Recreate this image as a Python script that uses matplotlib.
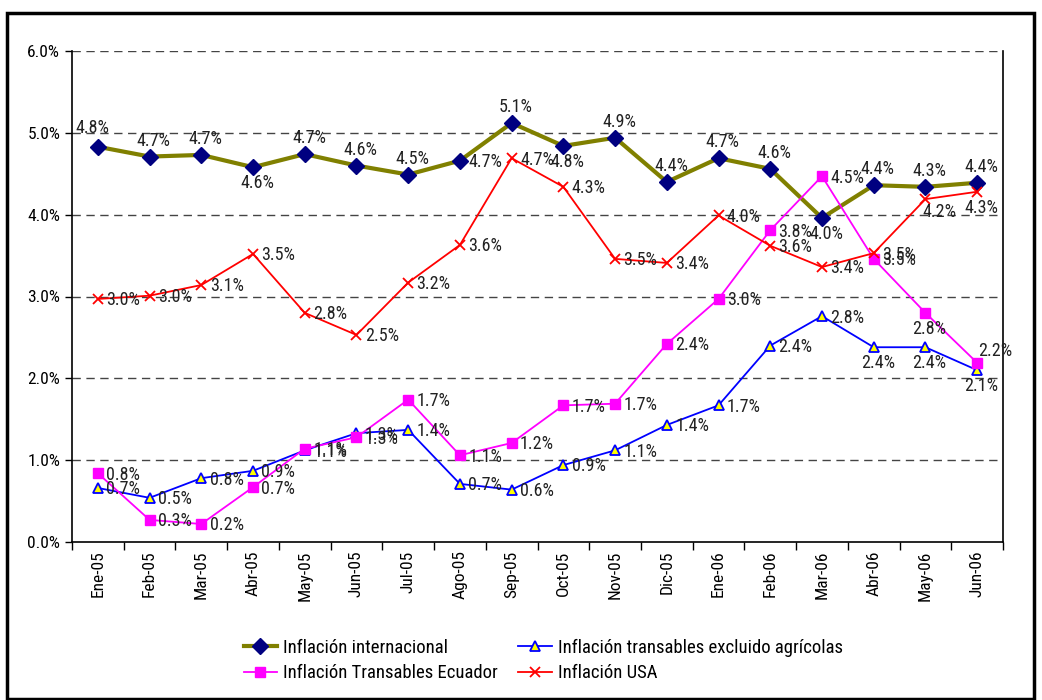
import matplotlib
matplotlib.use('Agg')
import matplotlib.pyplot as plt
from matplotlib.patches import Rectangle
import numpy as np

plt.rcParams['font.family'] = ['Roboto Condensed', 'Liberation Sans', 'DejaVu Sans']

months = ['Ene-05', 'Feb-05', 'Mar-05', 'Abr-05', 'May-05', 'Jun-05', 'Jul-05', 'Ago-05',
          'Sep-05', 'Oct-05', 'Nov-05', 'Dic-05', 'Ene-06', 'Feb-06', 'Mar-06', 'Abr-06',
          'May-06', 'Jun-06']

internacional = [4.83, 4.71, 4.73, 4.58, 4.74, 4.60, 4.49, 4.66, 5.12, 4.84, 4.94, 4.40,
                 4.69, 4.56, 3.96, 4.36, 4.34, 4.39]
usa = [2.97, 3.01, 3.14, 3.52, 2.80, 2.53, 3.17, 3.63, 4.69, 4.34, 3.46, 3.41,
       3.99, 3.62, 3.36, 3.53, 4.19, 4.28]
ecuador = [0.84, 0.27, 0.22, 0.67, 1.14, 1.28, 1.74, 1.06, 1.21, 1.67, 1.69, 2.42,
           2.97, 3.81, 4.47, 3.46, 2.80, 2.19]
excl_agricolas = [0.66, 0.54, 0.78, 0.87, 1.12, 1.33, 1.37, 0.71, 0.64, 0.94, 1.12, 1.43,
                  1.67, 2.40, 2.76, 2.38, 2.38, 2.10]

# where each data label sits relative to its point
pos_int = ['al', 'a', 'a', 'b', 'a', 'a', 'a', 'r', 'a', 'b', 'a', 'a', 'a', 'a', 'b', 'a', 'a', 'a']
pos_usa = ['r'] * 16 + ['br', 'b']
pos_ecu = ['r'] * 16 + ['b', 'ar']
pos_exc = ['r'] * 15 + ['b', 'b', 'b']

offsets = {
    'r': ((6, -1), 'left', 'center'),
    'a': ((3, 5), 'center', 'bottom'),
    'al': ((-4, 7), 'center', 'bottom'),
    'b': ((3, -5), 'center', 'top'),
    'br': ((10, -3), 'center', 'top'),
    'ar': ((1, 2), 'left', 'bottom'),
}


def add_labels(ax, x, values, positions):
    for xi, v, p in zip(x, values, positions):
        (dx, dy), ha, va = offsets[p]
        ax.annotate(f'{v:.1f}%', (xi, v), xytext=(dx, dy), textcoords='offset points',
                    ha=ha, va=va, fontsize=13, color='#222222')


fig = plt.figure(figsize=(10.42, 7), dpi=100)
ax = fig.add_axes([72 / 1042, 1 - 542 / 700, 931 / 1042, 491 / 700])

x = np.arange(len(months))

ax.plot(x, internacional, color='#808000', lw=3, marker='D', ms=8,
        mfc='#000080', mec='#000080', label='Inflación internacional', zorder=3)
ax.plot(x, excl_agricolas, color='#0000FF', lw=1.3, marker='^', ms=7,
        mfc='#FFFF00', mec='#0000FF', mew=1.3, label='Inflación transables excluido agrícolas', zorder=3)
ax.plot(x, ecuador, color='#FF00FF', lw=1.3, marker='s', ms=7,
        mfc='#FF00FF', mec='#FF00FF', label='Inflación Transables Ecuador', zorder=3)
ax.plot(x, usa, color='#FF0000', lw=1.3, marker='x', ms=7, mew=1.3,
        label='Inflación USA', zorder=3)

add_labels(ax, x, internacional, pos_int)
add_labels(ax, x, usa, pos_usa)
add_labels(ax, x, ecuador, pos_ecu)
add_labels(ax, x, excl_agricolas, pos_exc)

ax.set_xlim(-0.5, len(months) - 0.5)
ax.set_ylim(0, 6)
ax.set_yticks(np.arange(0, 6.1, 1))
ax.set_yticklabels([f'{v:.1f}%' for v in np.arange(0, 6.1, 1)], fontsize=12.5)
ax.set_xticks(x)
ax.set_xticklabels(months, rotation=90, fontsize=12.5)
ax.set_xticks(np.arange(-0.5, len(months), 1), minor=True)
ax.tick_params(axis='x', which='major', length=0, pad=6)
ax.tick_params(axis='x', which='minor', length=6, width=1, direction='out')
ax.tick_params(axis='y', length=5, width=1, direction='out')

for yv in range(1, 7):
    ax.axhline(yv, color='#444444', lw=1, ls=(0, (6, 4)), zorder=1)

ax.spines['top'].set_visible(False)
for s in ['left', 'bottom', 'right']:
    ax.spines[s].set_color('black')
    ax.spines[s].set_linewidth(1.2)

handles, labels = ax.get_legend_handles_labels()
order = [0, 2, 1, 3]
fig.legend([handles[i] for i in order], [labels[i] for i in order], ncol=2,
           loc='upper left', bbox_to_anchor=(236 / 1042, 1 - 631 / 700), frameon=False,
           fontsize=13.5, handlelength=1.8, handletextpad=0.3, columnspacing=1.1,
           labelspacing=0.4, borderaxespad=0)

fig.patches.append(Rectangle((7 / 1042, 1 / 700), 1027 / 1042, 1 - 13 / 700 - 1 / 700,
                             transform=fig.transFigure, fill=False, lw=2.5,
                             edgecolor='black'))

fig.savefig('out.png', dpi=100)
